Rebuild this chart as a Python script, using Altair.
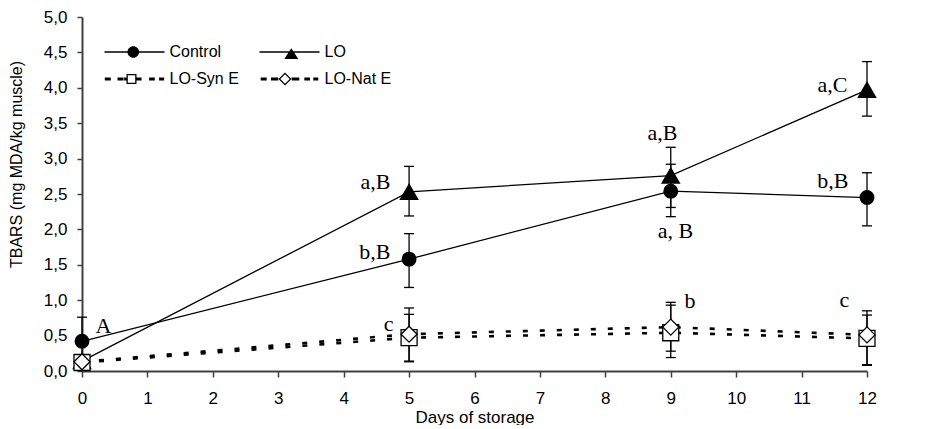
import altair as alt
import pandas as pd

# ---------------- data ----------------
days = [0, 5, 9, 12]
series_names = ["Control", "LO", "LO-Syn E", "LO-Nat E"]
legend_order = ["Control", "LO-Syn E", "LO", "LO-Nat E"]

control_mean = [0.42, 1.58, 2.54, 2.45]
control_low = [0.10, 1.18, 2.18, 2.05]
control_high = [0.76, 1.94, 2.92, 2.80]

lo_mean = [0.14, 2.53, 2.76, 3.97]
lo_low = [0.08, 2.19, 2.31, 3.60]
lo_high = [0.20, 2.89, 3.16, 4.37]

syn_mean = [0.12, 0.47, 0.54, 0.46]
syn_low = [0.07, 0.13, 0.19, 0.08]
syn_high = [0.17, 0.80, 0.93, 0.79]

nat_mean = [0.13, 0.52, 0.62, 0.51]
nat_low = [0.08, 0.14, 0.28, 0.09]
nat_high = [0.18, 0.89, 0.97, 0.85]

x_ticks = list(range(13))
y_ticks = [0.0, 0.5, 1.0, 1.5, 2.0, 2.5, 3.0, 3.5, 4.0, 4.5, 5.0]

# significance letters: text, anchor day, anchor value (baseline), alignment
ann_text = ["A", "b,B", "a,B", "a,B", "a, B", "a,C", "b,B", "c", "b", "c"]
ann_day = [0.206, 4.716, 4.716, 8.873, 9.072, 11.70, 11.716, 4.762, 9.21, 11.73]
ann_value = [0.537, 1.582, 2.571, 3.263, 1.878, 3.941, 2.585, 0.565, 0.89, 0.904]
ann_align = ["left", "right", "right", "center", "center", "right", "right", "right", "left", "right"]

# ---------------- tables ----------------
means = [control_mean, lo_mean, syn_mean, nat_mean]
lows = [control_low, lo_low, syn_low, nat_low]
highs = [control_high, lo_high, syn_high, nat_high]
rows = []
for s, m, l, h in zip(series_names, means, lows, highs):
    for d, mv, lv, hv in zip(days, m, l, h):
        rows.append({"series": s, "day": d, "mean": mv, "low": lv, "high": hv})
df = pd.DataFrame(rows)

ann = pd.DataFrame({"text": ann_text, "day": ann_day, "value": ann_value, "align": ann_align})

SANS = "Liberation Sans"
SERIF = "Liberation Serif"

xscale = alt.Scale(domain=[0, 12], nice=False, zero=False)
yscale = alt.Scale(domain=[0, 5], nice=False)

x_axis = alt.Axis(values=x_ticks, format="d", title="Days of storage",
                  titleFont=SANS, titleFontSize=17, titleFontWeight="normal",
                  titleColor="black", titleY=51, titleBaseline="alphabetic",
                  labelFont=SANS, labelFontSize=17, labelColor="black",
                  labelBaseline="alphabetic", labelPadding=26, labelFlush=False,
                  labelOverlap=False, tickSize=6, tickColor="#404040", tickWidth=1.5,
                  domainColor="#404040", domainWidth=2, grid=False)
y_axis = alt.Axis(values=y_ticks, labelExpr="replace(format(datum.value, '.1f'), '.', ',')",
                  title="TBARS (mg MDA/kg muscle)", titleFont=SANS, titleFontSize=16,
                  titleFontWeight="normal", titleColor="black", titleX=-73.5, titleY=147,
                  titleBaseline="top", titleAngle=270,
                  labelFont=SANS, labelFontSize=17, labelColor="black", labelPadding=10,
                  labelFlush=False, labelOverlap=False, tickSize=5, tickColor="#404040",
                  tickWidth=1.5, domainColor="#404040", domainWidth=2, grid=False)

base = alt.Chart(df)
X = alt.X("day:Q", scale=xscale, axis=x_axis)
Y = alt.Y("mean:Q", scale=yscale, axis=y_axis)

# error bars
rules = base.mark_rule(color="black", strokeWidth=1.3).encode(
    x=X, y=alt.Y("low:Q", scale=yscale, axis=y_axis), y2="high:Q")
cap_hi = base.mark_tick(orient="horizontal", size=10, thickness=1.3, color="black", opacity=1).encode(
    x=X, y=alt.Y("high:Q", scale=yscale, axis=y_axis))
cap_lo = base.mark_tick(orient="horizontal", size=10, thickness=1.3, color="black", opacity=1).encode(
    x=X, y=alt.Y("low:Q", scale=yscale, axis=y_axis))

layers = [rules, cap_hi, cap_lo]

line_styles = {
    "Control": dict(strokeWidth=1.3),
    "LO": dict(strokeWidth=1.3),
    "LO-Syn E": dict(strokeWidth=2.6, strokeDash=[5, 12]),
    "LO-Nat E": dict(strokeWidth=2.6, strokeDash=[5, 12]),
}
for s in ["LO-Syn E", "LO-Nat E", "Control", "LO"]:
    layers.append(base.transform_filter(alt.datum.series == s).mark_line(
        color="black", **line_styles[s]).encode(x=X, y=Y))

point_styles = {
    "Control": dict(shape="circle", size=185, fill="black"),
    "LO": dict(shape="triangle-up", size=300, fill="black"),
    "LO-Syn E": dict(shape="square", size=256, fill="white"),
    "LO-Nat E": dict(shape="diamond", size=256, fill="white"),
}
for s in series_names:
    layers.append(base.transform_filter(alt.datum.series == s).mark_point(
        filled=True, stroke="black", strokeWidth=1.3, opacity=1, **point_styles[s]).encode(x=X, y=Y))

# annotations
for a in ["left", "center", "right"]:
    layers.append(alt.Chart(ann).transform_filter(alt.datum.align == a).mark_text(
        font=SERIF, fontSize=22, color="black", align=a, baseline="alphabetic").encode(
        x=alt.X("day:Q", scale=xscale, axis=x_axis),
        y=alt.Y("value:Q", scale=yscale, axis=y_axis),
        text="text:N"))

# ---------------- legend symbols (custom paths, unit = 5 px) ----------------
U = 5.0

def f(v):
    return f"{v / U:.3f}"

def rect(x0, x1, y0, y1):
    return f"M{f(x0)},{f(y0)}H{f(x1)}V{f(y1)}H{f(x0)}Z"

def rect_ccw(x0, x1, y0, y1):
    return f"M{f(x0)},{f(y0)}V{f(y1)}H{f(x1)}V{f(y0)}Z"

def circle(cx, r):
    return (f"M{f(cx - r)},0A{f(r)},{f(r)} 0 1,1 {f(cx + r)},0"
            f"A{f(r)},{f(r)} 0 1,1 {f(cx - r)},0Z")

def diamond(cx, h):
    return f"M{f(cx)},{f(-h)}L{f(cx + h)},0L{f(cx)},{f(h)}L{f(cx - h)},0Z"

def diamond_ccw(cx, h):
    return f"M{f(cx)},{f(-h)}L{f(cx - h)},0L{f(cx)},{f(h)}L{f(cx + h)},0Z"

solid = rect(-30, 30, -0.65, 0.65)
p_control = solid + circle(-1.2, 5.8)
p_lo = solid + f"M{f(1.8)},{f(-3.8)}L{f(8.8)},{f(7)}L{f(-5.2)},{f(7)}Z"
syn_dashes = [(-29.7, -23.7), (-17, -11), (-10.4, -8), (2, 7), (14.6, 20.3), (24.6, 29.6)]
p_syn = "".join(rect(a, b, -1.6, 1.6) for a, b in syn_dashes) + rect(-8, 2, -5, 5) + rect_ccw(-6.7, 0.7, -3.7, 3.7)
nat_dashes = [(-28.8, -22.8), (-18.5, -11.2), (2.2, 9.8), (14.8, 20.5), (23.8, 28.8)]
p_nat = "".join(rect(a, b, -1.6, 1.6) for a, b in nat_dashes) + diamond(-4.5, 6.5) + diamond_ccw(-4.5, 4.7)
path_of = {"Control": p_control, "LO": p_lo, "LO-Syn E": p_syn, "LO-Nat E": p_nat}
legend_paths = [path_of[s] for s in legend_order]

legend_layer = base.transform_filter("false").mark_point(
    filled=True, color="black", opacity=1, size=100, strokeWidth=0).encode(
    x=X, y=Y,
    shape=alt.Shape("series:N", scale=alt.Scale(domain=legend_order, range=legend_paths),
                    legend=alt.Legend(title=None, orient="none", legendX=22.5, legendY=27,
                                      columns=2, padding=0, rowPadding=11, columnPadding=20,
                                      symbolSize=100, symbolOffset=22, labelOffset=27,
                                      symbolFillColor="black", symbolStrokeWidth=0,
                                      symbolOpacity=1, labelFont=SANS, labelFontSize=16,
                                      labelColor="black", labelLimit=0)))
layers.append(legend_layer)

chart = alt.layer(*layers).properties(
    width=785, height=354, padding=0, background="white"
).configure_view(stroke=None)

chart.save("out.html", embed_options={"renderer": "svg", "actions": False})
